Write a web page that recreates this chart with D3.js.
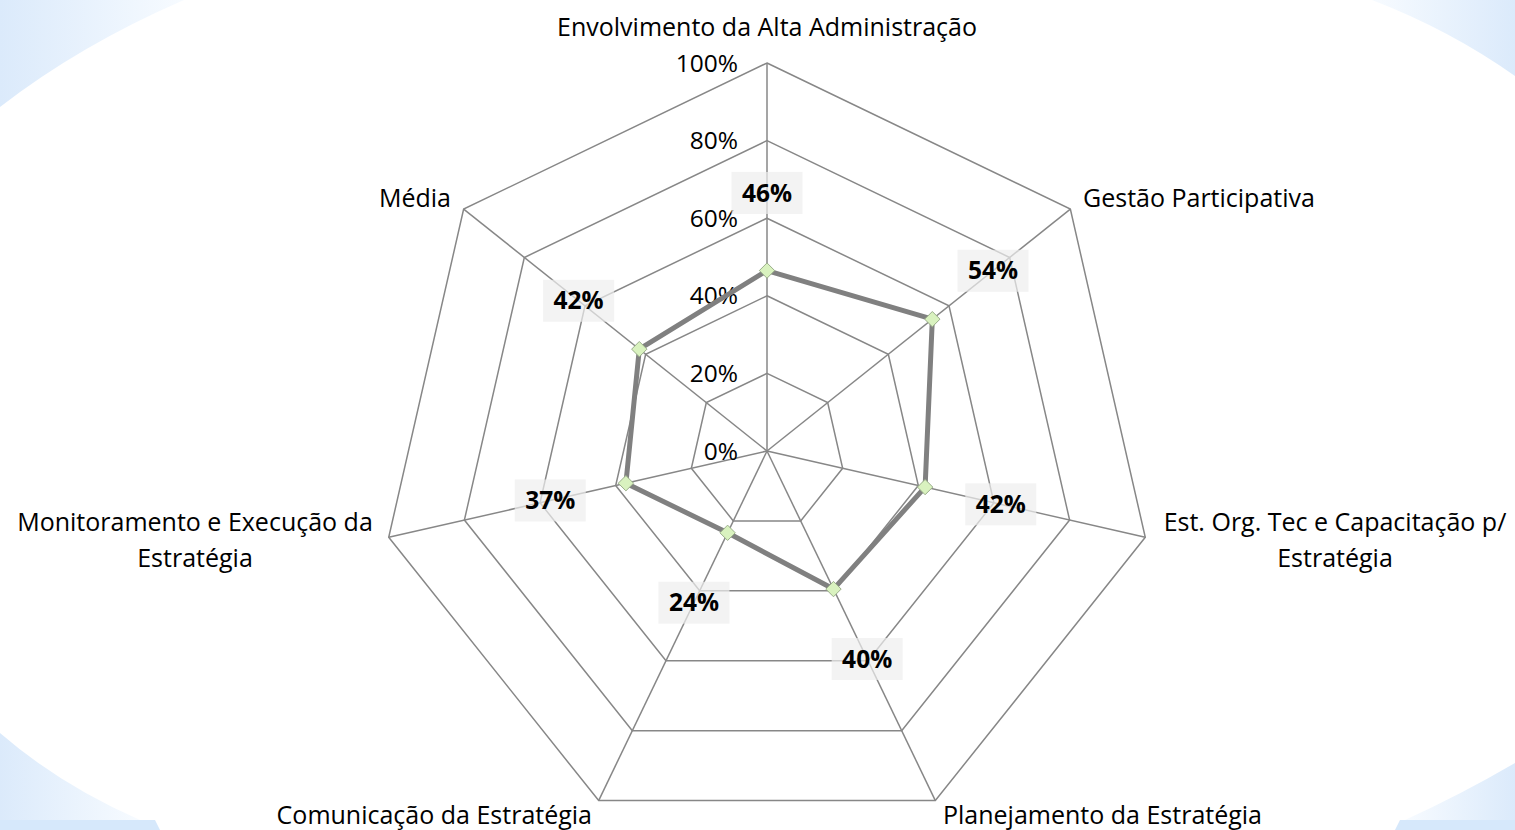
<!DOCTYPE html>
<html lang="pt">
<head>
<meta charset="utf-8">
<title>Radar</title>
<script src="https://cdn.jsdelivr.net/npm/d3@7"></script>
<style>
  html, body { margin: 0; padding: 0; background: #fff; }
  svg { display: block; }
  text { font-family: "Open Sans", "Noto Sans", sans-serif; fill: #000; }
</style>
</head>
<body>
<script>
// categories (clockwise from top)
var categories = [
  ["Envolvimento da Alta Administração"],
  ["Gestão Participativa"],
  ["Est. Org. Tec e Capacitação p/", "Estratégia"],
  ["Planejamento da Estratégia"],
  ["Comunicação da Estratégia"],
  ["Monitoramento e Execução da", "Estratégia"],
  ["Média"]
]
var values = [0.465, 0.545, 0.418, 0.395, 0.234, 0.373, 0.421]
var valueLabels = ["46%", "54%", "42%", "40%", "24%", "37%", "42%"]
var ticks = [0, 0.2, 0.4, 0.6, 0.8, 1]
var tickLabels = ["0%", "20%", "40%", "60%", "80%", "100%"]

var w = 1515, h = 830
var cx = 767, cy = 451, R = 388

var svg = d3.select("body").append("svg").attr("width", w).attr("height", h)

// background swooshes
var defs = svg.append("defs")
var grad = defs.append("linearGradient").attr("id", "gl")
  .attr("x1", "0").attr("x2", "1").attr("y1", "0").attr("y2", "0")
grad.append("stop").attr("offset", "0").attr("stop-color", "#dbeafb")
grad.append("stop").attr("offset", "1").attr("stop-color", "#f7fbff")
var gradR = defs.append("linearGradient").attr("id", "gr")
  .attr("x1", "1").attr("x2", "0").attr("y1", "0").attr("y2", "0")
gradR.append("stop").attr("offset", "0").attr("stop-color", "#dbeafb")
gradR.append("stop").attr("offset", "1").attr("stop-color", "#f7fbff")

svg.append("path").attr("d", "M0,0 L184,0 Q80,45 0,107 Z").attr("fill", "url(#gl)")
svg.append("path").attr("d", "M1372,0 L1515,0 L1515,76 Q1450,30 1372,0 Z").attr("fill", "url(#gr)")
svg.append("path").attr("d", "M0,733 Q60,785 140,820 L0,820 Z").attr("fill", "url(#gl)")
svg.append("path").attr("d", "M0,820 L155,820 L160,830 L0,830 Z").attr("fill", "#d6e8fb")
svg.append("path").attr("d", "M1515,763 Q1460,795 1405,820 L1515,820 Z").attr("fill", "url(#gr)")
svg.append("path").attr("d", "M1400,820 L1515,820 L1515,830 L1395,830 Z").attr("fill", "#d6e8fb")

var r = d3.scaleLinear().domain([0, 1]).range([0, R])
var angle = d3.scaleLinear().domain([0, categories.length]).range([0, 2 * Math.PI])

function px(i, v) { return cx + r(v) * Math.sin(angle(i)) }
function py(i, v) { return cy - r(v) * Math.cos(angle(i)) }

var idx = d3.range(categories.length)

// grid rings
svg.selectAll(".ring")
  .data(ticks.slice(1))
  .enter()
  .append("polygon")
  .attr("class", "ring")
  .attr("points", function(t) {
    return idx.map(function(i) { return px(i, t) + "," + py(i, t) }).join(" ")
  })
  .attr("fill", "none")
  .attr("stroke", "#878787")
  .attr("stroke-width", 1.5)

// spokes
svg.selectAll(".spoke")
  .data(idx)
  .enter()
  .append("line")
  .attr("class", "spoke")
  .attr("x1", cx).attr("y1", cy)
  .attr("x2", function(i) { return px(i, 1) })
  .attr("y2", function(i) { return py(i, 1) })
  .attr("stroke", "#878787")
  .attr("stroke-width", 1.5)

// tick labels
svg.selectAll(".tick")
  .data(ticks)
  .enter()
  .append("text")
  .attr("class", "tick")
  .attr("x", cx - 29)
  .attr("y", function(t) { return cy - r(t) })
  .attr("dy", "0.35em")
  .attr("text-anchor", "end")
  .attr("font-size", "24.5px")
  .text(function(t, i) { return tickLabels[i] })

// series line
var line = d3.line()
  .x(function(i) { return px(i, values[i]) })
  .y(function(i) { return py(i, values[i]) })
  .curve(d3.curveLinearClosed)

svg.append("path")
  .attr("d", line(idx))
  .attr("fill", "none")
  .attr("stroke", "#808080")
  .attr("stroke-width", 5)
  .attr("stroke-linejoin", "round")

// markers
var sym = d3.symbol().type(d3.symbolDiamond2).size(150)
svg.selectAll(".marker")
  .data(idx)
  .enter()
  .append("path")
  .attr("class", "marker")
  .attr("transform", function(i) { return "translate(" + px(i, values[i]) + "," + py(i, values[i]) + ")" })
  .attr("d", sym)
  .attr("fill", "#d9f2bf")
  .attr("stroke", "#9aae8a")
  .attr("stroke-width", 1)

// data labels
var lab = svg.selectAll(".dlabel")
  .data(idx)
  .enter()
  .append("g")
  .attr("class", "dlabel")
  .attr("transform", function(i) { return "translate(" + px(i, values[i] + 0.2) + "," + py(i, values[i] + 0.2) + ")" })
lab.append("rect")
  .attr("x", -35.5).attr("y", -21)
  .attr("width", 71).attr("height", 42)
  .attr("fill", "#eeeeee")
  .attr("fill-opacity", 0.7)
lab.append("text")
  .attr("text-anchor", "middle")
  .attr("dy", "0.35em")
  .attr("font-size", "24.5px")
  .attr("font-weight", "bold")
  .text(function(i) { return valueLabels[i] })

// category labels
var catPos = [
  { x: 767, y: 27, anchor: "middle" },
  { x: 1083, y: 198, anchor: "start" },
  { x: 1335, y: 522, anchor: "middle" },
  { x: 943, y: 815, anchor: "start" },
  { x: 592, y: 815, anchor: "end" },
  { x: 195, y: 522, anchor: "middle" },
  { x: 451, y: 198, anchor: "end" }
]
var cat = svg.selectAll(".cat")
  .data(idx)
  .enter()
  .append("text")
  .attr("class", "cat")
  .attr("x", function(i) { return catPos[i].x })
  .attr("y", function(i) { return catPos[i].y })
  .attr("text-anchor", function(i) { return catPos[i].anchor })
  .attr("font-size", "25px")
cat.selectAll("tspan")
  .data(function(i) { return categories[i].map(function(s) { return { s: s, x: catPos[i].x } }) })
  .enter()
  .append("tspan")
  .attr("x", function(d) { return d.x })
  .attr("dy", function(d, j) { return j == 0 ? "0.35em" : "36px" })
  .text(function(d) { return d.s })
</script>
</body>
</html>
